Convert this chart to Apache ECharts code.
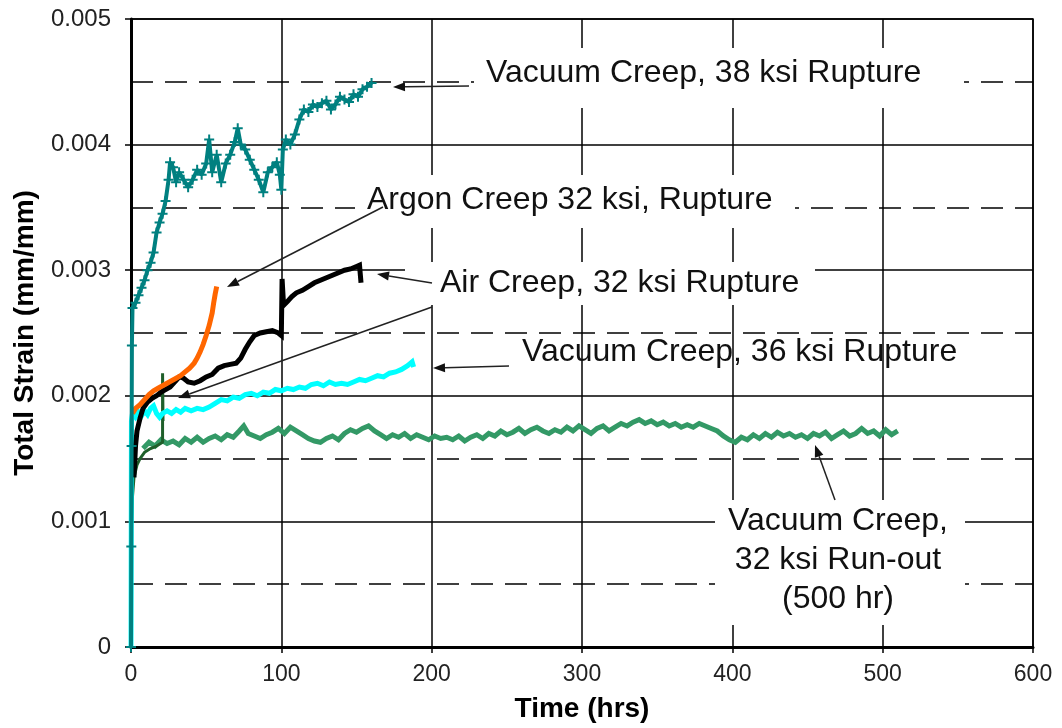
<!DOCTYPE html>
<html>
<head>
<meta charset="utf-8">
<script src="https://cdn.jsdelivr.net/npm/echarts@6/dist/echarts.min.js"></script>
<style>
html, body { margin: 0; padding: 0; background: #fff; }
#chart { width: 1062px; height: 728px; }
</style>
</head>
<body>
<div id="chart"></div>
<script>
// Vacuum creep, 38 ksi (rupture)
var tVac38 = [0, 0.2, 0.4, 0.6, 1, 3, 5, 7, 9, 11, 13, 15, 17, 19, 21, 23, 25, 26, 28, 30, 32, 35, 38, 41, 44, 47, 50, 52, 54, 57, 60, 63, 66, 69, 71, 73, 76, 79, 82, 85, 88, 91, 94, 97, 99, 100, 101, 103, 106, 109, 112, 115, 118, 121, 124, 127, 130, 133, 136, 139, 142, 145, 148, 151, 154, 157, 160];
var sVac38 = [0, 0.0008, 0.0016, 0.0024, 0.00270, 0.00274, 0.00280, 0.00286, 0.00292, 0.00300, 0.00306, 0.00314, 0.00330, 0.00338, 0.00345, 0.00355, 0.00372, 0.00386, 0.00382, 0.00370, 0.00378, 0.00372, 0.00366, 0.00372, 0.00380, 0.00376, 0.00385, 0.00404, 0.00378, 0.00392, 0.00370, 0.00385, 0.00392, 0.00402, 0.00413, 0.00400, 0.00396, 0.00388, 0.00380, 0.00372, 0.00362, 0.00378, 0.00382, 0.00386, 0.00376, 0.00364, 0.00396, 0.00404, 0.00400, 0.00408, 0.00420, 0.00428, 0.00426, 0.00432, 0.00430, 0.00433, 0.00435, 0.00428, 0.00432, 0.00438, 0.00436, 0.00434, 0.00440, 0.00438, 0.00444, 0.00446, 0.00449];

// Argon creep, 32 ksi (rupture)
var tArgon = [1, 3, 6, 9, 12, 15, 18, 21, 24, 27, 30, 33, 36, 39, 42, 44, 46, 48, 50, 52, 54, 55, 56, 57];
var sArgon = [0.00186, 0.00190, 0.00193, 0.00197, 0.00201, 0.00204, 0.00206, 0.00208, 0.00210, 0.00212, 0.00214, 0.00216, 0.00219, 0.00222, 0.00226, 0.00230, 0.00235, 0.00241, 0.00248, 0.00256, 0.00266, 0.00274, 0.00281, 0.00287];

// Air creep, 32 ksi (rupture)
var tAir = [2, 3, 4, 6, 8, 11, 14, 17, 20, 23, 26, 29, 32, 35, 38, 42, 46, 50, 54, 58, 62, 66, 70, 73, 76, 79, 82, 86, 90, 94, 98, 100, 100.5, 101.5, 104, 107, 110, 114, 118, 122, 126, 130, 134, 138, 142, 146, 150, 152, 153];
var sAir = [0.00135, 0.00160, 0.00172, 0.00182, 0.00190, 0.00195, 0.00198, 0.00200, 0.00203, 0.00205, 0.00207, 0.00211, 0.00215, 0.00214, 0.00211, 0.00210, 0.00212, 0.00215, 0.00217, 0.00222, 0.00224, 0.00225, 0.00226, 0.00230, 0.00237, 0.00243, 0.00248, 0.00250, 0.00251, 0.00252, 0.00250, 0.00248, 0.00293, 0.00272, 0.00275, 0.00279, 0.00282, 0.00284, 0.00287, 0.00290, 0.00292, 0.00294, 0.00296, 0.00298, 0.00300, 0.00301, 0.00303, 0.00304, 0.00290];

// Vacuum creep, 36 ksi (rupture)
var tVac36 = [0, 0.3, 1, 3, 5, 7, 9, 11, 13, 15, 17, 19, 21, 24, 27, 30, 33, 36, 40, 44, 48, 52, 56, 60, 64, 68, 72, 76, 80, 84, 88, 92, 96, 100, 104, 108, 112, 116, 120, 124, 128, 132, 136, 140, 144, 148, 152, 156, 160, 164, 168, 172, 176, 180, 184, 187, 188];
var sVac36 = [0, 0.00180, 0.00186, 0.00183, 0.00187, 0.00184, 0.00188, 0.00185, 0.00190, 0.00192, 0.00186, 0.00183, 0.00186, 0.00188, 0.00186, 0.00189, 0.00187, 0.00190, 0.00188, 0.00190, 0.00189, 0.00191, 0.00194, 0.00197, 0.00196, 0.00199, 0.00198, 0.00201, 0.00202, 0.00200, 0.00203, 0.00202, 0.00205, 0.00204, 0.00206, 0.00205, 0.00207, 0.00206, 0.00209, 0.00210, 0.00208, 0.00211, 0.00209, 0.00210, 0.00209, 0.00211, 0.00213, 0.00212, 0.00214, 0.00216, 0.00215, 0.00218, 0.00219, 0.00221, 0.00224, 0.00227, 0.00223];

// Vacuum creep, 32 ksi: loading part
var tLoad = [0.5, 1, 2, 4, 6, 9, 13, 17, 21, 21, 21.3];
var sLoad = [0.00100, 0.00120, 0.00135, 0.00145, 0.00150, 0.00155, 0.00158, 0.00160, 0.00163, 0.00218, 0.00180];

// Vacuum creep, 32 ksi (run-out, 500 hr)
var tRunout = [8, 12, 16, 20, 24, 28, 32, 36, 40, 44, 48, 52, 56, 60, 64, 68, 72, 75, 78, 82, 86, 90, 94, 98, 102, 106, 110, 114, 118, 122, 126, 130, 134, 138, 142, 146, 150, 154, 158, 162, 166, 170, 174, 178, 182, 186, 190, 194, 198, 202, 206, 210, 214, 218, 222, 226, 230, 234, 238, 242, 246, 250, 254, 258, 262, 266, 270, 274, 278, 282, 286, 290, 294, 298, 302, 306, 310, 314, 318, 322, 326, 330, 334, 338, 342, 346, 350, 354, 358, 362, 366, 370, 374, 378, 382, 386, 390, 394, 398, 402, 406, 410, 414, 418, 422, 426, 430, 434, 438, 442, 446, 450, 454, 458, 462, 466, 470, 474, 478, 482, 486, 490, 494, 498, 502, 506, 510];
var sRunout = [0.00158, 0.00163, 0.00160, 0.00165, 0.00162, 0.00164, 0.00161, 0.00166, 0.00163, 0.00167, 0.00163, 0.00166, 0.00168, 0.00165, 0.00169, 0.00167, 0.00172, 0.00176, 0.00170, 0.00168, 0.00166, 0.00169, 0.00171, 0.00174, 0.00170, 0.00175, 0.00172, 0.00169, 0.00166, 0.00164, 0.00163, 0.00166, 0.00168, 0.00165, 0.00170, 0.00173, 0.00171, 0.00174, 0.00176, 0.00172, 0.00169, 0.00166, 0.00169, 0.00167, 0.00170, 0.00166, 0.00169, 0.00167, 0.00165, 0.00168, 0.00166, 0.00167, 0.00165, 0.00168, 0.00164, 0.00167, 0.00169, 0.00166, 0.00170, 0.00168, 0.00172, 0.00169, 0.00171, 0.00174, 0.00170, 0.00173, 0.00175, 0.00172, 0.00170, 0.00173, 0.00171, 0.00175, 0.00172, 0.00176, 0.00173, 0.00170, 0.00174, 0.00176, 0.00172, 0.00175, 0.00178, 0.00176, 0.00179, 0.00181, 0.00178, 0.00180, 0.00177, 0.00179, 0.00176, 0.00178, 0.00175, 0.00177, 0.00175, 0.00178, 0.00176, 0.00174, 0.00172, 0.00168, 0.00165, 0.00163, 0.00167, 0.00165, 0.00169, 0.00166, 0.00170, 0.00167, 0.00171, 0.00168, 0.00170, 0.00167, 0.00169, 0.00166, 0.00170, 0.00168, 0.00171, 0.00166, 0.00169, 0.00172, 0.00168, 0.00170, 0.00174, 0.00170, 0.00172, 0.00168, 0.00173, 0.00169, 0.00172];

function pairs(t, s) {
	var out = [];
	for (var i = 0; i < t.length; i++) out.push([t[i], s[i]]);
	return out;
}

var font = '"Liberation Sans", Arial, sans-serif';
var plus = 'path://M4,0H6V4H10V6H6V10H4V6H0V4H4Z';

function line(name, data, color, extra) {
	var s = {
		name: name, type: 'line', data: data, showSymbol: false, animation: false,
		lineStyle: { color: color, width: 5, join: 'miter' }, itemStyle: { color: color }
	};
	for (var k in extra) s[k] = extra[k];
	return s;
}

function arrow(x1, y1, x2, y2) {
	var a = Math.atan2(y2 - y1, x2 - x1), L = 12, W = 4.5;
	var bx = x2 - L * Math.cos(a), by = y2 - L * Math.sin(a);
	var nx = -Math.sin(a) * W, ny = Math.cos(a) * W;
	return [
		{ type: 'line', z: 5, shape: { x1: x1, y1: y1, x2: bx, y2: by }, style: { stroke: '#222', lineWidth: 1.5 } },
		{ type: 'polygon', z: 5, shape: { points: [[x2, y2], [bx + nx, by + ny], [bx - nx, by - ny]] }, style: { fill: '#111' } }
	];
}

function box(x, y, w, h) {
	return { type: 'rect', z: 1, shape: { x: x, y: y, width: w, height: h }, style: { fill: '#fff' } };
}

function label(text, x, y, align) {
	return { type: 'text', z: 6, x: x, y: y, style: { text: text, font: '32px ' + font, fill: '#111', align: align || 'left', verticalAlign: 'middle' } };
}

var graphics = [
	box(474, 48, 490, 60), box(355, 175, 440, 53), box(405, 262, 410, 43), box(715, 500, 250, 125),
	label('Vacuum Creep, 38 ksi Rupture', 486, 73),
	label('Argon Creep 32 ksi, Rupture', 367, 200),
	label('Air Creep, 32 ksi Rupture', 440, 283),
	label('Vacuum Creep, 36 ksi Rupture', 522, 352),
	label('Vacuum Creep,', 838, 521, 'center'),
	label('32 ksi Run-out', 838, 560, 'center'),
	label('(500 hr)', 838, 599, 'center')
].concat(
	arrow(469, 86, 393, 87),
	arrow(383, 207, 227, 287),
	arrow(432, 283, 377, 274),
	arrow(432, 307, 178, 398),
	arrow(509, 366, 433, 368),
	arrow(835, 500, 815, 445)
);

var chart = echarts.init(document.getElementById('chart'));
chart.setOption({
	backgroundColor: '#fff',
	animation: false,
	grid: { left: 131, right: 29, top: 19, bottom: 81, show: true, borderColor: '#000', borderWidth: 1.5, backgroundColor: 'transparent' },
	xAxis: {
		type: 'value', min: 0, max: 600, interval: 100,
		name: 'Time (hrs)', nameLocation: 'middle', nameGap: 48,
		nameTextStyle: { fontFamily: font, fontWeight: 'bold', fontSize: 28, color: '#000' },
		axisLine: { show: true, lineStyle: { color: '#000', width: 3 } },
		axisTick: { show: true, length: 6, lineStyle: { color: '#000', width: 1.5 } },
		axisLabel: { fontFamily: font, fontSize: 23, color: '#222', margin: 16 },
		splitLine: { show: true, lineStyle: { color: '#000', width: 1.5 } }
	},
	yAxis: {
		type: 'value', min: 0, max: 0.005, interval: 0.001,
		name: 'Total Strain (mm/mm)', nameLocation: 'middle', nameGap: 92,
		nameTextStyle: { fontFamily: font, fontWeight: 'bold', fontSize: 28, color: '#000' },
		axisLine: { show: true, lineStyle: { color: '#000', width: 3 } },
		axisTick: { show: true, length: 6, lineStyle: { color: '#000', width: 1.5 } },
		axisLabel: { fontFamily: font, fontSize: 24, color: '#222', margin: 20 },
		splitLine: { show: true, lineStyle: { color: '#000', width: 1.5 } },
		minorTick: { show: false, splitNumber: 2 },
		minorSplitLine: { show: true, lineStyle: { color: '#000', width: 1.5, type: [22, 12] } }
	},
	series: [
		line('Vacuum Creep, 32 ksi Run-out', pairs(tRunout, sRunout), '#339966', {}),
		line('Vacuum Creep, 32 ksi loading', pairs(tLoad, sLoad), '#1f5f2a', { lineStyle: { color: '#1f5f2a', width: 3 } }),
		line('Vacuum Creep, 36 ksi Rupture', pairs(tVac36, sVac36), '#00ffff', {}),
		line('Air Creep, 32 ksi Rupture', pairs(tAir, sAir), '#000000', {}),
		line('Argon Creep 32 ksi, Rupture', pairs(tArgon, sArgon), '#ff6600', {}),
		line('Vacuum Creep, 38 ksi Rupture', pairs(tVac38, sVac38), '#008080', {
			showSymbol: true, showAllSymbol: true, symbol: plus, symbolSize: 10,
			lineStyle: { color: '#008080', width: 4 }
		})
	],
	graphic: graphics
});
</script>
</body>
</html>
